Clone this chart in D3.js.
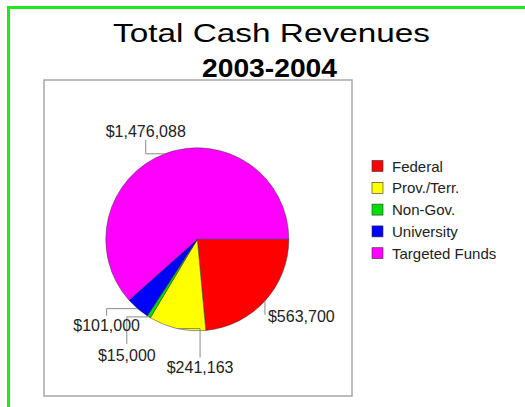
<!DOCTYPE html>
<html>
<head>
<meta charset="utf-8">
<script src="https://cdn.jsdelivr.net/npm/d3@7"></script>
<style>
  html,body{margin:0;padding:0;background:#fff;}
  svg{display:block;font-family:"Liberation Sans",Arial,sans-serif;}
</style>
</head>
<body>
<div id="chart"></div>
<script>
const categories=["Federal","Prov./Terr.","Non-Gov.","University","Targeted Funds"];
const values=[563700,241163,15000,101000,1476088];
const valueLabels=["$563,700","$241,163","$15,000","$101,000","$1,476,088"];
const colors=["#ff0000","#ffff00","#00dd00","#0000ff","#ff00ff"];

const width=525;
const height=407;
const cx=197.3;
const cy=239.3;
const radius=91.5;

// leader shape for each slice: horizontal run, vertical run, label offset
const leaders=[
  {h:0,v:14,lx:3,ly:7,anchor:"start"},
  {h:23,v:29,lx:0,ly:15,anchor:"middle"},
  {h:-22,v:27,lx:0,ly:17,anchor:"middle"},
  {h:-31,v:7,lx:0,ly:15,anchor:"middle"},
  {h:-19,v:-14,lx:0,ly:-3,anchor:"middle"}
];

const svg=d3.select("#chart").append("svg")
  .attr("width",width)
  .attr("height",height);

// green frame
svg.append("rect")
  .attr("x",8.5).attr("y",7.5)
  .attr("width",width+10).attr("height",height+10)
  .attr("fill","none")
  .attr("stroke","#1ee81e")
  .attr("stroke-width",3);

svg.append("text")
  .attr("x",271.5).attr("y",42)
  .attr("text-anchor","middle")
  .attr("textLength",317)
  .attr("lengthAdjust","spacingAndGlyphs")
  .style("font-size","26px")
  .text("Total Cash Revenues");

svg.append("text")
  .attr("x",269.5).attr("y",76.5)
  .attr("text-anchor","middle")
  .attr("textLength",135)
  .attr("lengthAdjust","spacingAndGlyphs")
  .style("font-size","26px")
  .style("font-weight","bold")
  .text("2003-2004");

// plot box
svg.append("rect")
  .attr("x",44).attr("y",80)
  .attr("width",308).attr("height",316)
  .attr("fill","#fff")
  .attr("stroke","#a8a8a8")
  .attr("stroke-width",1.5);

const pie=d3.pie()
  .sort(null)
  .startAngle(Math.PI/2)
  .endAngle(Math.PI/2+2*Math.PI)
  .value((d)=>d);

const arc=d3.arc().innerRadius(0).outerRadius(radius);
const arcs=pie(values);

const g=svg.append("g").attr("transform","translate("+cx+","+cy+")");

g.selectAll(".slice")
  .data(arcs)
  .enter()
  .append("path")
  .attr("class","slice")
  .attr("d",arc)
  .attr("fill",(d,i)=>colors[i])
  .attr("stroke","#333")
  .attr("stroke-width",0.5);

// leader lines and value labels
arcs.forEach((d,i)=>{
  let mid=(d.startAngle+d.endAngle)/2;
  let px=radius*Math.sin(mid);
  let py=-radius*Math.cos(mid);
  let L=leaders[i];
  let ex=px+L.h;
  let ey=py+L.v;
  g.append("path")
    .attr("d","M"+px+","+py+"L"+ex+","+py+"L"+ex+","+ey)
    .attr("fill","none")
    .attr("stroke","#8a8a8a")
    .attr("stroke-width",1);
  g.append("text")
    .attr("x",ex+L.lx)
    .attr("y",ey+L.ly)
    .attr("text-anchor",L.anchor)
    .style("font-size","16px")
    .attr("fill","#222")
    .text(valueLabels[i]);
});

// legend
const legend=svg.append("g").attr("transform","translate(372,160.5)");
const rowGap=21.8;
legend.selectAll(".key")
  .data(categories)
  .enter()
  .append("rect")
  .attr("class","key")
  .attr("x",0)
  .attr("y",(d,i)=>i*rowGap)
  .attr("width",11)
  .attr("height",11)
  .attr("fill",(d,i)=>colors[i])
  .attr("stroke","#333")
  .attr("stroke-width",0.6);

legend.selectAll(".keyText")
  .data(categories)
  .enter()
  .append("text")
  .attr("class","keyText")
  .attr("x",20)
  .attr("y",(d,i)=>i*rowGap+11)
  .style("font-size","15px")
  .attr("fill","#222")
  .text((d)=>d);
</script>
</body>
</html>
